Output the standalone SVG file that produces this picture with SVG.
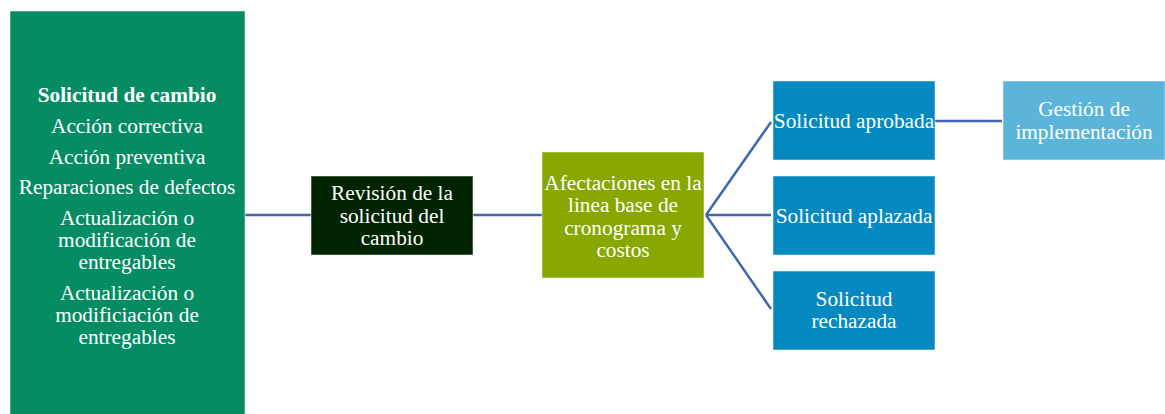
<svg xmlns="http://www.w3.org/2000/svg" width="1165" height="414" viewBox="0 0 1165 414">
<style>
text{font-family:"Liberation Serif","Times New Roman",serif;font-size:21.3px;fill:#ffffff;text-anchor:middle}
.b{font-weight:bold}
.conn{stroke:#4066B0;stroke-width:2.5;fill:none}
.box{stroke:#ffffff;stroke-opacity:0.5;stroke-width:1}
</style>
<rect width="1165" height="414" fill="#ffffff"/>
<g id="connectors">
<line class="conn" x1="245" y1="215" x2="311" y2="215"/>
<line class="conn" x1="473" y1="215" x2="542" y2="215"/>
<line class="conn" x1="706" y1="215" x2="771" y2="122"/>
<line class="conn" x1="706" y1="215" x2="771" y2="215"/>
<line class="conn" x1="706" y1="215" x2="771" y2="309"/>
<line class="conn" x1="935" y1="121" x2="1002" y2="121"/>
</g>
<g id="n_solicitud_cambio">
<rect class="box" x="10" y="11" width="235" height="410" fill="#058C63"/>
<text class="b" x="127" y="102">Solicitud de cambio</text>
<text x="127" y="133">Acción correctiva</text>
<text x="127" y="164">Acción preventiva</text>
<text x="127" y="194">Reparaciones de defectos</text>
<text x="127" y="225">Actualización o</text>
<text x="127" y="247">modificación de</text>
<text x="127" y="269">entregables</text>
<text x="127" y="300">Actualización o</text>
<text x="127" y="322">modificiación de</text>
<text x="127" y="344">entregables</text>
</g>
<g id="n_revision">
<rect class="box" x="311" y="176" width="162" height="79" fill="#002400"/>
<text x="392" y="200">Revisión de la</text>
<text x="392" y="223">solicitud del</text>
<text x="392" y="245">cambio</text>
</g>
<g id="n_afectaciones">
<rect class="box" x="542" y="152" width="162" height="126" fill="#86A800"/>
<text x="623" y="190">Afectaciones en la</text>
<text x="623" y="212">linea base de</text>
<text x="623" y="235">cronograma y</text>
<text x="623" y="257">costos</text>
</g>
<g id="n_aprobada">
<rect class="box" x="773" y="81" width="162" height="79" fill="#0589C0"/>
<text x="854" y="128">Solicitud aprobada</text>
</g>
<g id="n_aplazada">
<rect class="box" x="773" y="176" width="162" height="79" fill="#0589C0"/>
<text x="854" y="223">Solicitud aplazada</text>
</g>
<g id="n_rechazada">
<rect class="box" x="773" y="271" width="162" height="79" fill="#0589C0"/>
<text x="854" y="306">Solicitud</text>
<text x="854" y="328">rechazada</text>
</g>
<g id="n_gestion">
<rect class="box" x="1003" y="81" width="162" height="79" fill="#5BB4DA"/>
<text x="1084" y="116">Gestión de</text>
<text x="1084" y="139">implementación</text>
</g>
</svg>
